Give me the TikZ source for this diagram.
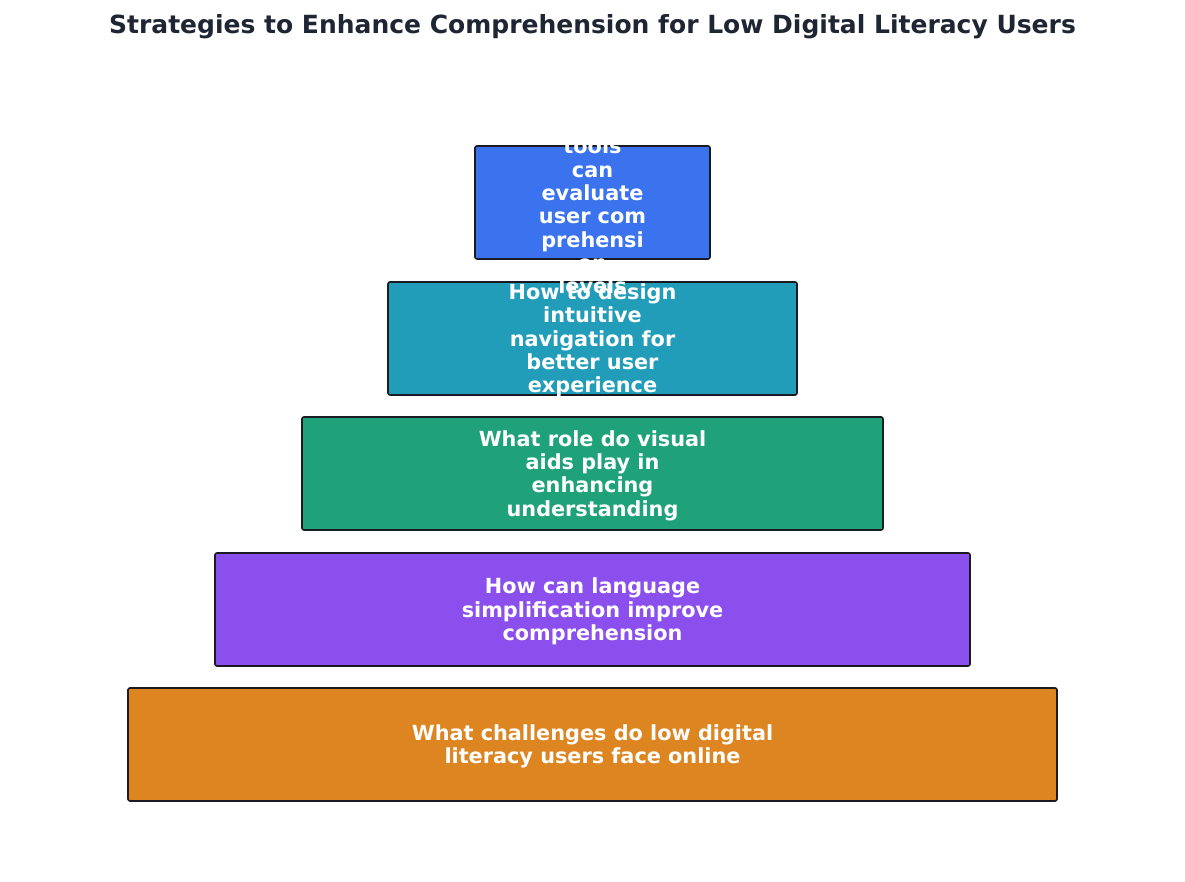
\documentclass[tikz,border=0pt]{standalone}
\usepackage{fontspec}
\setmainfont{DejaVu Sans}
\definecolor{cblue}{HTML}{3B73EE}
\definecolor{cteal}{HTML}{229DB9}
\definecolor{cgreen}{HTML}{1FA27A}
\definecolor{cpurple}{HTML}{8B4FEE}
\definecolor{corange}{HTML}{DD8521}
\definecolor{ctitle}{HTML}{1E2533}
\definecolor{cborder}{HTML}{1A1A22}
\begin{document}
\begin{tikzpicture}[x=1pt,y=1pt,
  layer/.style={draw=cborder,line width=1.6pt,rounded corners=2pt,minimum height=113pt,inner sep=0pt},
  ltext/.style={text=white,align=center,font=\fontsize{20.8}{23.3}\selectfont\bfseries,inner sep=0pt},
  ttl/.style={text=ctitle,font=\fontsize{25}{28}\selectfont\bfseries,inner sep=0pt}]
\useasboundingbox (0,0) rectangle (1185,882);
\fill[white] (0,0) rectangle (1185,882);
\node[ttl] (title) at (592.5,855) {Strategies to Enhance Comprehension for Low Digital Literacy Users};
% boxes
\node[layer,fill=cblue,minimum width=235pt] (b1) at (592.5,679.5) {};
\node[layer,fill=cteal,minimum width=409pt] (b2) at (592.5,543.5) {};
\node[layer,fill=cgreen,minimum width=581pt] (b3) at (592.5,408.5) {};
\node[layer,fill=cpurple,minimum width=755pt] (b4) at (592.5,272.5) {};
\node[layer,fill=corange,minimum width=929pt] (b5) at (592.5,137.5) {};
% texts (drawn above all boxes, clipped at top of plot area)
\begin{scope}
\clip (0,0) rectangle (1185,736);
\node[ltext] (t1) at ([yshift=-2pt]b1.center) {What\\tools\\can\\evaluate\\user com\\prehensi\\on\\levels};
\end{scope}
\node[ltext] (t2) at ([yshift=-2pt]b2.center) {How to design\\intuitive\\navigation for\\better user\\experience};
\node[ltext] (t3) at ([yshift=-2pt]b3.center) {What role do visual\\aids play in\\enhancing\\understanding};
\node[ltext] (t4) at ([yshift=-2pt]b4.center) {How can language\\simplification improve\\comprehension};
\node[ltext] (t5) at ([yshift=-2pt]b5.center) {What challenges do low digital\\literacy users face online};
\end{tikzpicture}
\end{document}
